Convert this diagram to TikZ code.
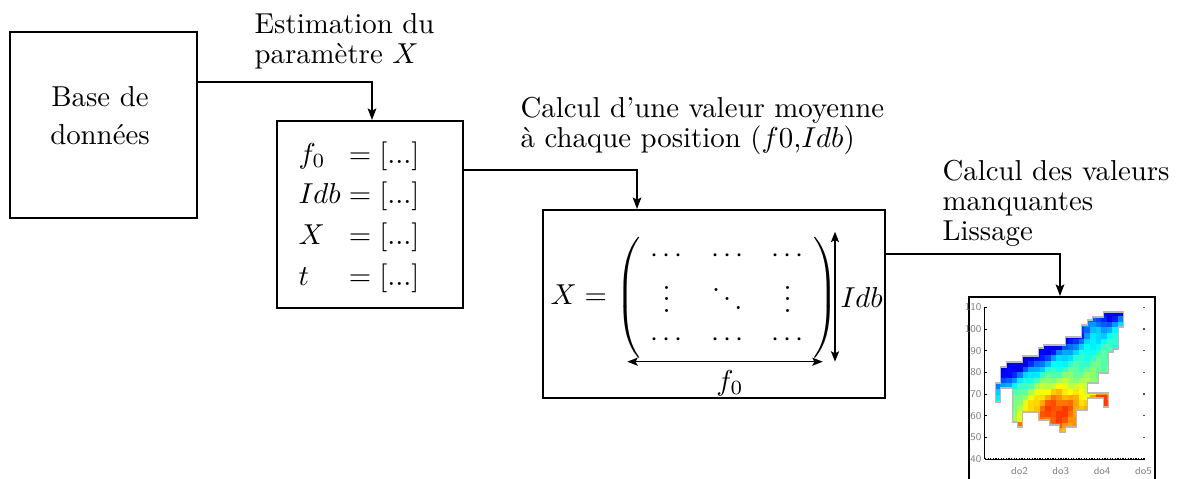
\documentclass[tikz,border=0pt]{standalone}
\usepackage{amsmath}
\usetikzlibrary{arrows.meta}
\newcommand\hdt{\mathord{\cdotp}\mkern2.5mu\mathord{\cdotp}\mkern2.5mu\mathord{\cdotp}}
\tikzset{
  box/.style={draw, line width=0.7pt, rectangle, inner sep=0pt},
  conn/.style={line width=0.55pt, -{Stealth[length=4pt,width=3pt,inset=0.8pt]}},
  dbl/.style={line width=0.55pt, {Stealth[length=3.6pt,width=2.8pt,inset=0.7pt]}-{Stealth[length=3.6pt,width=2.8pt,inset=0.7pt]}},
  lbl/.style={align=left, inner sep=0pt, anchor=north west, font=\fontsize{10}{10.4}\selectfont},
  axlbl/.style={inner sep=0pt, text=gray, font=\sffamily\fontsize{3.6}{4}\selectfont},
  axline/.style={line width=0.3pt, black},
}
\begin{document}
\begin{tikzpicture}[x=0.347pt, y=-0.347pt]
\useasboundingbox (0,0) rectangle (1178,479);
\clip (0,0) rectangle (1178,479);

% boxes
\node[box, minimum width=187*0.347pt, minimum height=186*0.347pt] (db) at (103.5,125) {};
\node[inner sep=0pt, align=center, font=\fontsize{10}{13.2}\selectfont] (dbt) at (100,116) {Base de\\données};

\node[box, minimum width=186*0.347pt, minimum height=187*0.347pt] (vars) at (370,214.5) {};
\node[anchor=base west, inner sep=0pt] (varst) at (298,223.3)
  {$\def\arraystretch{1.18}\begin{array}{@{}l@{}l@{}} f_0 & {}=[...]\\ Idb & {}=[...]\\ X & {}=[...]\\ t & {}=[...]\end{array}$};

\node[box, minimum width=342*0.347pt, minimum height=188*0.347pt] (mat) at (714,304) {};
\node[anchor=base west, inner sep=0pt] (mtx) at (550,305)
  {$X=\left(\begin{array}{@{\hspace{3.6pt}}c@{\hspace{9.6pt}}c@{\hspace{9.6pt}}c@{\hspace{3.4pt}}}\hdt&\hdt&\hdt\\[-1.5pt] \vdots&\ddots&\vdots\\ \hdt&\hdt&\hdt\end{array}\right)$};
\coordinate (va1) at (835,231.7);
\coordinate (va2) at (835,361.7);
\coordinate (ha1) at (627.3,361.7);
\coordinate (ha2) at (822.7,361.7);
\draw[dbl] (va1) -- (va2);
\draw[dbl] (ha1) -- (ha2);
\node[inner sep=0pt] (idb) at (861.7,297.5) {$Idb$};
\node[inner sep=0pt] (f0l) at (730,383.3) {$f_0$};

\node[box, minimum width=186*0.347pt, minimum height=223*0.347pt] (plot) at (1062,408.5) {};

% labels
\node[lbl] (l1) at (254,13.3) {Estimation du\\paramètre $X$};
\node[lbl] (l2) at (520,96.7) {Calcul d'une valeur moyenne\\à chaque position $(f0$,$Idb)$};
\node[lbl] (l3) at (942,160) {Calcul des valeurs\\manquantes\\Lissage};

% connectors
\coordinate (k1) at (372,82);
\coordinate (k2) at (637,170);
\coordinate (k3) at (1060,254);
\draw[conn] (db.east |- k1) -- (k1) -- (k1 |- vars.north);
\draw[conn] (vars.east |- k2) -- (k2) -- (k2 |- mat.north);
\draw[conn] (mat.east |- k3) -- (k3) -- (k3 |- plot.north);

% heat map
\begin{scope}
\clip (995,383) -- (1000,383) -- (1000,367) -- (1006,367) -- (1006,362) -- (1022,362) -- (1022,356) -- (1038,356) -- (1038,348) -- (1043,348) -- (1043,345) -- (1065,345) -- (1065,337) -- (1081,337) -- (1081,325) -- (1087,325) -- (1087,320) -- (1092,320) -- (1092,317) -- (1103,317) -- (1103,312) -- (1123,312) -- (1123,327) -- (1118,327) -- (1118,349) -- (1113,349) -- (1113,352) -- (1108,352) -- (1108,373) -- (1098,373) -- (1098,383) -- (1087,383) -- (1087,393) -- (1108,393) -- (1108,407) -- (1103,407) -- (1103,398) -- (1087,398) -- (1087,410) -- (1076,410) -- (1076,427) -- (1065,427) -- (1065,432) -- (1059,432) -- (1059,425) -- (1049,425) -- (1049,420) -- (1038,420) -- (1038,412) -- (1022,412) -- (1022,427) -- (1017,427) -- (1017,422) -- (1012,422) -- (1012,388) -- (1000,388) -- (1000,402) -- (995,402) -- cycle;
\foreach \i in {0,...,23}{
  \foreach \j in {0,...,21}{
    \pgfmathsetmacro\cx{997.8+5.6*\i}
    \pgfmathsetmacro\cy{313.8+5.6*\j}
    \pgfmathsetmacro\dval{max(0,\cy-383+0.555*(\cx-995))}
    \pgfmathsetmacro\ha{min(20,((\cx-1055)/32)^2+((\cy-410)/26)^2)}
    \pgfmathsetmacro\hb{min(20,((\cx-1104)/11.3)^2+((\cy-400)/11.3)^2)}
    \pgfmathsetmacro\hc{min(20,((\cx-1090)/11.3)^2+((\cy-325)/11.3)^2)}
    \pgfmathsetmacro\vv{0.1+0.3*(1-exp(-min(20,\dval/12)))+0.002*\dval+0.3*exp(-\ha)+0.28*exp(-\hb)+0.2*exp(-\hc)+0.03*sin(97*\i+61*\j)}
    \pgfmathsetmacro\vv{min(0.82,max(0.1,\vv))}
    \pgfmathsetmacro\rrv{min(1,max(0,1.5-abs(4*\vv-3)))}
    \pgfmathsetmacro\ggv{min(1,max(0,1.5-abs(4*\vv-2)))}
    \pgfmathsetmacro\bbv{min(1,max(0,1.5-abs(4*\vv-1)))}
    \definecolor{cc}{rgb}{\rrv,\ggv,\bbv}
    \fill[cc] (\cx-3.1,\cy-3.1) rectangle (\cx+3.1,\cy+3.1);
  }}
\fill[orange!90!red] (1017,422) rectangle (1022,427);
\end{scope}
\draw[gray!55, line width=0.35pt] (995,383) -- (1000,383) -- (1000,367) -- (1006,367) -- (1006,362) -- (1022,362) -- (1022,356) -- (1038,356) -- (1038,348) -- (1043,348) -- (1043,345) -- (1065,345) -- (1065,337) -- (1081,337) -- (1081,325) -- (1087,325) -- (1087,320) -- (1092,320) -- (1092,317) -- (1103,317) -- (1103,312) -- (1123,312) -- (1123,327) -- (1118,327) -- (1118,349) -- (1113,349) -- (1113,352) -- (1108,352) -- (1108,373) -- (1098,373) -- (1098,383) -- (1087,383) -- (1087,393) -- (1108,393) -- (1108,407) -- (1103,407) -- (1103,398) -- (1087,398) -- (1087,410) -- (1076,410) -- (1076,427) -- (1065,427) -- (1065,432) -- (1059,432) -- (1059,425) -- (1049,425) -- (1049,420) -- (1038,420) -- (1038,412) -- (1022,412) -- (1022,427) -- (1017,427) -- (1017,422) -- (1012,422) -- (1012,388) -- (1000,388) -- (1000,402) -- (995,402) -- cycle;

% axes
\draw[axline] (986.5,307.3) -- (984.5,307.3) -- (984.5,459.3);
\foreach \k in {1,...,6}{
  \draw[axline] (984.5,307.3+21.7*\k) -- (986.5,307.3+21.7*\k);
  \fill[gray!60!black] (1143.4,307.3+21.7*\k-0.6) rectangle ++(1.2,1.2);
}
\fill[gray!60!black] (1143.4,306.7) rectangle ++(1.2,1.2);
\draw[black, line width=0.35pt] (985,459.8) -- (1144.5,459.8);
\draw[black, line width=0.55pt, dash pattern=on 0.45pt off 0.45pt] (985,458.6) -- (1144.5,458.6);
\foreach \k/\t in {0/110,1/100,2/90,3/80,4/70,5/60,6/50,7/40}{
  \node[axlbl, anchor=east] (yl\k) at (982,307.3+21.7*\k) {\t};
}
\foreach \k/\t in {0/do2,1/do3,2/do4,3/do5}{
  \node[axlbl] (xl\k) at (1019.5+41.3*\k,471) {\t};
}
\end{tikzpicture}
\end{document}
